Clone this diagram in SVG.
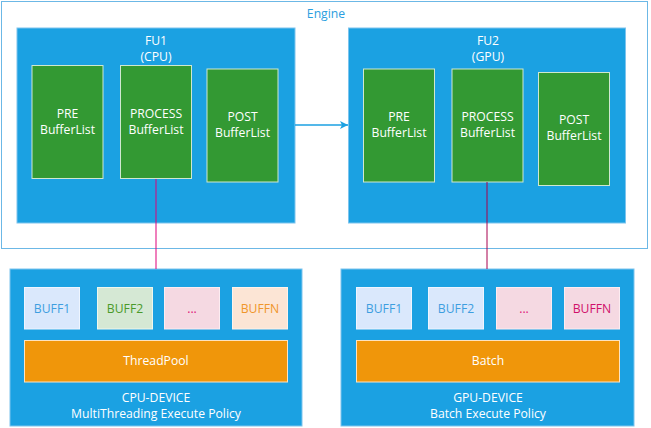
<svg xmlns="http://www.w3.org/2000/svg" width="651" height="428" viewBox="0 0 651 428">
<style>
text{font-family:"Open Sans","Noto Sans","DejaVu Sans",sans-serif;font-size:12.2px;text-anchor:middle}
.fu{fill:#1ba1e2;stroke:#7cc4ee;stroke-width:1}
.dev{fill:#1ba1e2;stroke:#7cc4ee;stroke-width:1}
.g{fill:#339933;stroke:#cfe8cf;stroke-width:1}
.w{fill:#ffffff}
.bar{fill:#f0960a;stroke:#fde3c0;stroke-width:1}
.b1{fill:#dae8fc;stroke:#eef5ff}
.b2{fill:#d5e8d4;stroke:#eef7ee}
.b3{fill:#f5d9e2;stroke:#fcecf1}
.b4{fill:#fce5d5;stroke:#fff2ea}
</style>
<defs>
<marker id="ah" markerWidth="8" markerHeight="8" refX="8" refY="4" orient="auto" markerUnits="userSpaceOnUse">
<path d="M0,0 L8,4 L0,8 L2,4 Z" fill="#1ba1e2"/>
</marker>
</defs>
<rect width="651" height="428" fill="#ffffff"/>
<g id="engine">
<rect x="1.5" y="1.5" width="646" height="247" fill="none" stroke="#6cb8e6" stroke-width="1"/>
<text x="326" y="18" fill="#2a9ee0">Engine</text>
</g>
<g id="fu1">
<rect class="fu" x="17" y="28" width="278" height="195" stroke="none"/>
<text class="w" x="156" y="45">FU1</text>
<text class="w" x="156" y="61">(CPU)</text>
</g>
<g id="fu1-pre">
<rect class="g" x="32" y="65.5" width="71" height="113"/>
<text class="w" x="67.5" y="117.5">PRE</text>
<text class="w" x="67.5" y="133.5">BufferList</text>
</g>
<g id="fu1-process">
<rect class="g" x="120.5" y="65.5" width="71" height="113"/>
<text class="w" x="156" y="117.5">PROCESS</text>
<text class="w" x="156" y="133.5">BufferList</text>
</g>
<g id="fu1-post">
<rect class="g" x="207" y="69" width="71" height="113"/>
<text class="w" x="242.5" y="120.5">POST</text>
<text class="w" x="242.5" y="136.5">BufferList</text>
</g>
<g id="fu2">
<rect class="fu" x="348.5" y="28" width="277" height="195"/>
<text class="w" x="488" y="45">FU2</text>
<text class="w" x="488" y="61">(GPU)</text>
</g>
<g id="fu2-pre">
<rect class="g" x="363.5" y="69" width="71" height="113"/>
<text class="w" x="399" y="120.5">PRE</text>
<text class="w" x="399" y="136.5">BufferList</text>
</g>
<g id="fu2-process">
<rect class="g" x="452" y="69" width="71" height="113"/>
<text class="w" x="487.5" y="120.5">PROCESS</text>
<text class="w" x="487.5" y="136.5">BufferList</text>
</g>
<g id="fu2-post">
<rect class="g" x="538.5" y="72.5" width="71" height="113"/>
<text class="w" x="574" y="124">POST</text>
<text class="w" x="574" y="140">BufferList</text>
</g>
<g id="cpu-device">
<rect class="dev" x="10" y="269" width="292" height="157" stroke="none"/>
<rect class="b1" x="24.5" y="287.5" width="55" height="41.5"/>
<text x="52" y="313" fill="#3d9ee0">BUFF1</text>
<rect class="b2" x="97.5" y="287.5" width="55" height="41.5"/>
<text x="125" y="313" fill="#4a9a2a">BUFF2</text>
<rect class="b3" x="164.5" y="287.5" width="55" height="41.5"/>
<text x="192" y="313" fill="#e0197a">...</text>
<rect class="b4" x="232.5" y="287.5" width="55" height="41.5"/>
<text x="260" y="313" fill="#f0962a">BUFFN</text>
<rect class="bar" x="24.5" y="340.5" width="263" height="41.5"/>
<text class="w" x="156" y="365">ThreadPool</text>
<text class="w" x="156" y="401.5">CPU-DEVICE</text>
<text class="w" x="156" y="417.5">MultiThreading Execute Policy</text>
</g>
<g id="gpu-device">
<rect class="dev" x="341" y="269" width="293" height="157" stroke="none"/>
<rect class="b1" x="356.5" y="287.5" width="55" height="41.5"/>
<text x="384" y="313" fill="#3d9ee0">BUFF1</text>
<rect class="b1" x="428.5" y="287.5" width="55" height="41.5"/>
<text x="456" y="313" fill="#3d9ee0">BUFF2</text>
<rect class="b3" x="496.5" y="287.5" width="55" height="41.5"/>
<text x="524" y="313" fill="#e0197a">...</text>
<rect class="b3" x="564.5" y="287.5" width="55" height="41.5"/>
<text x="592" y="313" fill="#d0106a">BUFFN</text>
<rect class="bar" x="356.5" y="340.5" width="263" height="41.5"/>
<text class="w" x="488" y="365">Batch</text>
<text class="w" x="488" y="401.5">GPU-DEVICE</text>
<text class="w" x="488" y="417.5">Batch Execute Policy</text>
</g>
<g id="connectors">
<line x1="295" y1="125" x2="348" y2="125" stroke="#1ba1e2" stroke-width="1.5" marker-end="url(#ah)"/>
<line x1="156" y1="179" x2="156" y2="269" stroke="#e0007a" stroke-opacity="0.5" stroke-width="2"/>
<line x1="487" y1="182" x2="487" y2="269" stroke="#a8004f" stroke-width="1"/>
</g>
</svg>
